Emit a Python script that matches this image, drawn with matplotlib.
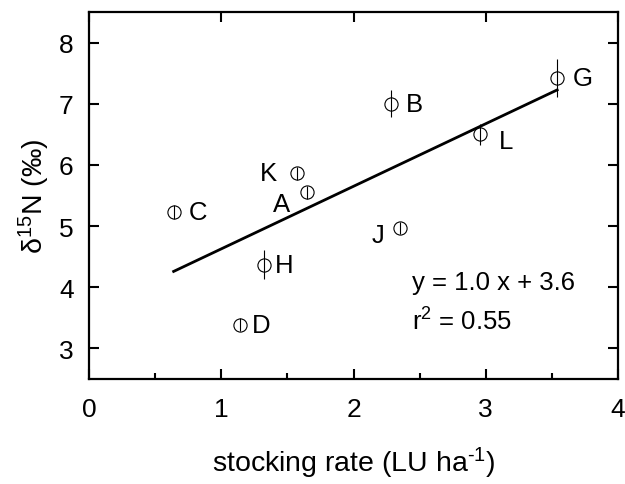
import numpy as np
import matplotlib
matplotlib.use('Agg')
import matplotlib.pyplot as plt
from matplotlib.ticker import MultipleLocator

plt.rcParams['font.family'] = ['Liberation Sans', 'DejaVu Sans']
plt.rcParams['mathtext.fontset'] = 'custom'
plt.rcParams['mathtext.rm'] = 'Liberation Sans'
plt.rcParams['mathtext.it'] = 'Liberation Sans'

# stocking rate vs d15N per site
sites = ['G', 'B', 'L', 'K', 'A', 'C', 'J', 'H', 'D']
stocking = np.array([3.54, 2.28, 2.96, 1.57, 1.65, 0.64, 2.35, 1.32, 1.14])
d15n = np.array([7.42, 7.00, 6.50, 5.86, 5.55, 5.23, 4.97, 4.37, 3.39])
d15n_err = np.array([0.31, 0.22, 0.17, 0.10, 0.10, 0.11, 0.10, 0.24, 0.10])

# label offsets (points) for the site letters
offsets = {'G': (11, 0), 'B': (11, 0), 'L': (13, -5), 'K': (-14, 0),
           'A': (-12, -8), 'C': (11, 0), 'J': (-11, -5), 'H': (8, 0),
           'D': (9, 0)}
has = {'K': 'right', 'A': 'right', 'J': 'right'}

slope, intercept = np.polyfit(stocking, d15n, 1)
r2 = np.corrcoef(stocking, d15n)[0, 1] ** 2

fig = plt.figure(figsize=(6.25, 4.85), dpi=100)
ax = fig.add_axes([0.1424, 0.2165, 0.8464, 0.7567])

xfit = np.array([stocking.min(), stocking.max()])
ax.plot(xfit, slope * xfit + intercept, color='black', lw=2.0, zorder=2)

ax.errorbar(stocking, d15n, yerr=d15n_err, fmt='o', mfc='none', mec='black',
            ecolor='black', ms=9.5, mew=0.8, elinewidth=0.8, capsize=0, zorder=3)

for s, x, y in zip(sites, stocking, d15n):
    ax.annotate(s, (x, y), xytext=offsets[s], textcoords='offset points',
                ha=has.get(s, 'left'), va='center', fontsize=18.5)

ax.text(2.44, 4.09, 'y = %.1f x + %.1f' % (slope, intercept), fontsize=18.5,
        ha='left', va='center')
ax.text(2.44, 3.45, 'r$^2$ = %.2f' % r2, fontsize=18.5, ha='left', va='center')

ax.set_xlim(0, 4)
ax.set_ylim(2.5, 8.5)
ax.xaxis.set_major_locator(MultipleLocator(1))
ax.xaxis.set_minor_locator(MultipleLocator(0.5))
ax.yaxis.set_major_locator(MultipleLocator(1))

ax.tick_params(which='major', direction='in', length=7, width=1.5,
               labelsize=19, top=True, right=True)
ax.tick_params(axis='x', which='major', pad=13)
ax.tick_params(axis='y', which='major', pad=11)
ax.tick_params(axis='x', which='minor', direction='in', length=4.5, width=1.5,
               top=False)
for sp in ax.spines.values():
    sp.set_linewidth(1.6)

ax.set_xlabel(r'stocking rate (LU ha$^{\text{-}1}$)', fontsize=20.5, labelpad=17)
ax.set_ylabel('δ$^{15}$N (‰)', fontsize=20.5, labelpad=5)

fig.savefig('out.png', dpi=100)
